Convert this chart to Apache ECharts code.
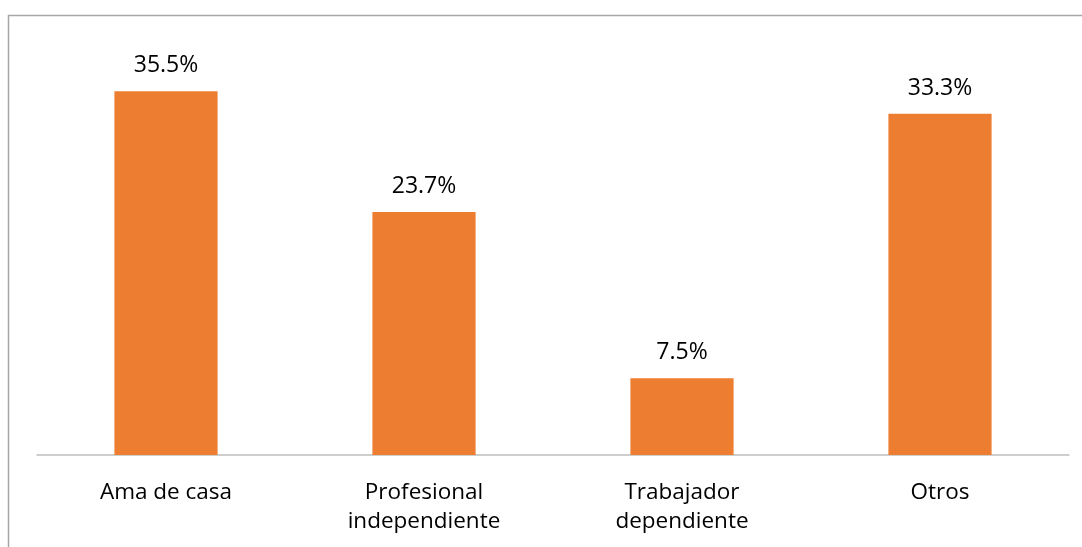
<!DOCTYPE html>
<html>
<head>
<meta charset="utf-8">
<script src="https://cdn.jsdelivr.net/npm/echarts@6/dist/echarts.min.js"></script>
<style>
html,body{margin:0;padding:0;background:#fff;}
#chart{width:1082px;height:547px;}
</style>
</head>
<body>
<div id="chart"></div>
<script>
const categories = ['Ama de casa', 'Profesional\nindependiente', 'Trabajador\ndependiente', 'Otros'];
const values = [35.5, 23.7, 7.5, 33.3];

const chart = echarts.init(document.getElementById('chart'), null, {renderer: 'canvas'});
chart.setOption({
  animation: false,
  backgroundColor: '#ffffff',
  graphic: [{
    type: 'rect',
    shape: {x: 8.5, y: 15.5, width: 2000, height: 1000},
    style: {fill: 'none', stroke: '#a6a6a6', lineWidth: 1.5},
    silent: true
  }],
  grid: {left: 37, right: 13, top: 45, bottom: 92},
  xAxis: {
    type: 'category',
    data: categories,
    axisLine: {lineStyle: {color: '#bfbfbf', width: 1.5}},
    axisTick: {show: false},
    axisLabel: {
      color: '#000',
      fontFamily: 'Open Sans',
      fontSize: 22.5,
      lineHeight: 29,
      margin: 23
    }
  },
  yAxis: {
    type: 'value',
    min: 0,
    max: 40,
    show: false,
    splitLine: {show: false}
  },
  series: [{
    type: 'bar',
    data: values,
    barWidth: '40%',
    itemStyle: {color: '#ed7d31'},
    label: {
      show: true,
      position: 'top',
      distance: 14,
      color: '#000',
      fontFamily: 'Open Sans',
      fontSize: 23,
      formatter: p => p.value.toFixed(1) + '%'
    }
  }]
});
</script>
</body>
</html>
